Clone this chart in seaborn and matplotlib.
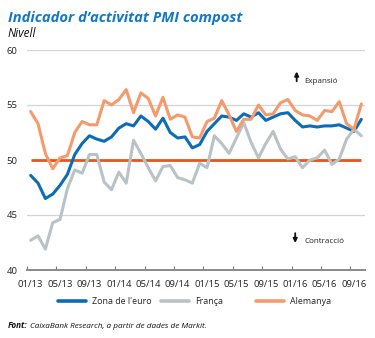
import numpy as np
import pandas as pd
import matplotlib
matplotlib.use("Agg")
import matplotlib.pyplot as plt
import seaborn as sns

# Monthly composite PMI, Jan 2013 - Oct 2016
mesos = pd.date_range("2013-01-01", periods=46, freq="MS").strftime("%m/%y").tolist()

zona_euro = [48.6, 47.9, 46.5, 46.9, 47.7, 48.7, 50.5, 51.5, 52.2, 51.9, 51.7, 52.1,
             52.9, 53.3, 53.1, 54.0, 53.5, 52.8, 53.8, 52.5, 52.0, 52.1, 51.1, 51.4,
             52.6, 53.3, 54.0, 53.9, 53.6, 54.2, 53.9, 54.3, 53.6, 53.9, 54.2, 54.3,
             53.6, 53.0, 53.1, 53.0, 53.1, 53.1, 53.2, 52.9, 52.6, 53.7]

franca = [42.7, 43.1, 41.9, 44.3, 44.6, 47.4, 49.1, 48.8, 50.5, 50.5, 48.0, 47.3,
          48.9, 47.9, 51.8, 50.6, 49.3, 48.1, 49.4, 49.5, 48.4, 48.2, 47.9, 49.7,
          49.3, 52.2, 51.5, 50.6, 52.0, 53.4, 51.6, 50.2, 51.5, 52.6, 51.0, 50.1,
          50.3, 49.3, 50.0, 50.2, 50.9, 49.6, 50.1, 51.9, 52.8, 52.2]

alemanya = [54.4, 53.3, 50.6, 49.2, 50.2, 50.4, 52.5, 53.5, 53.2, 53.2, 55.4, 55.0,
            55.5, 56.4, 54.3, 56.1, 55.6, 54.0, 55.7, 53.7, 54.1, 53.9, 52.1, 52.0,
            53.5, 53.8, 55.4, 54.1, 52.6, 53.7, 53.7, 55.0, 54.1, 54.2, 55.2, 55.5,
            54.5, 54.1, 54.0, 53.6, 54.5, 54.4, 55.3, 53.3, 52.8, 55.1]

series = ["Zona de l'euro", "França", "Alemanya"]
colors = ["#0d6cb6", "#b9c3c7", "#f49a6c"]
llindar = 50

idx = np.arange(len(mesos))
df = pd.DataFrame({"mes": np.tile(idx, 3),
                   "valor": zona_euro + franca + alemanya,
                   "serie": np.repeat(series, len(mesos))})

sns.set_theme(style="white")
plt.rcParams["font.family"] = ["Open Sans", "DejaVu Sans"]

fig = plt.figure(figsize=(3.75, 3.38), dpi=100)
ax = fig.add_axes([27/375, 1 - 270/338, 338/375, 220/338])

# gridlines
for y in [45, 55, 60]:
    ax.axhline(y, color="#d4d4d4", lw=0.9, zorder=0)

sns.lineplot(data=df, x="mes", y="valor", hue="serie", hue_order=series,
             palette=dict(zip(series, colors)), linewidth=2.2, ax=ax, zorder=3)
# stacking: Zona de l'euro above Alemanya above França
for line, z in zip(ax.get_lines()[-3:], [5, 3, 4]):
    line.set_zorder(z)

ax.hlines(llindar, idx[0], idx[-1], color="#e8531f", lw=2.0, zorder=2)

ax.set_xlim(-0.5, len(mesos) - 0.5)
ax.set_ylim(40, 60)
ax.set_xlabel("")
ax.set_ylabel("")

ticks = idx[::4]
ax.set_xticks(ticks)
ax.set_xticklabels([mesos[i] for i in ticks])
ax.set_xticks(ticks - 0.5, minor=True)
ax.tick_params(axis="x", which="major", length=0, pad=7, labelsize=6.8, labelcolor="#222222")
ax.tick_params(axis="x", which="minor", direction="in", length=3, width=0.8, color="#777777", bottom=True)
ax.set_yticks([40, 45, 50, 55, 60])
ax.tick_params(axis="y", length=0, pad=7, labelsize=6.8, labelcolor="#222222")

for s in ["top", "right", "left"]:
    ax.spines[s].set_visible(False)
ax.spines["bottom"].set_color("#8a8a8a")
ax.spines["bottom"].set_linewidth(1.4)

# expansion / contraction notes
ax.annotate("", xy=(36.2, 58.3), xytext=(36.2, 56.9),
            arrowprops=dict(arrowstyle="-|>", color="#111111", lw=1.3, mutation_scale=6))
ax.text(37.3, 57.15, "Expansió", fontsize=5.8, va="center", ha="left", color="#222222")
ax.annotate("", xy=(36.0, 42.2), xytext=(36.0, 43.6),
            arrowprops=dict(arrowstyle="-|>", color="#111111", lw=1.3, mutation_scale=6))
ax.text(37.3, 42.6, "Contracció", fontsize=5.8, va="center", ha="left", color="#222222")

# legend: one entry per series at fixed positions
handles, labels = ax.get_legend_handles_labels()
ax.get_legend().remove()
leg_x = [58, 161, 256]
for h, l, x in zip(handles, labels, leg_x):
    h.set_linewidth(2.6)
    fig.legend([h], [l], loc="center left", bbox_to_anchor=(x/375, 1 - 302/338),
               frameon=False, fontsize=6.4, handlelength=3.2, handletextpad=0.6,
               borderpad=0, borderaxespad=0)

fig.text(8/375, 1 - 22/338, "Indicador d’activitat PMI compost", fontsize=10.6,
         fontweight="bold", fontstyle="italic", color="#1479c4", va="baseline")
fig.text(8/375, 1 - 37/338, "Nivell", fontsize=8.5, fontstyle="italic",
         color="#111111", va="baseline")
fig.text(8/375, 1 - 328/338, "Font:", fontsize=5.9, fontweight="bold",
         fontstyle="italic", color="#111111", va="baseline")
fig.text(30/375, 1 - 328/338, "CaixaBank Research, a partir de dades de Markit.",
         fontsize=5.9, fontstyle="italic", color="#111111", va="baseline")

fig.savefig("out.png", dpi=100)
